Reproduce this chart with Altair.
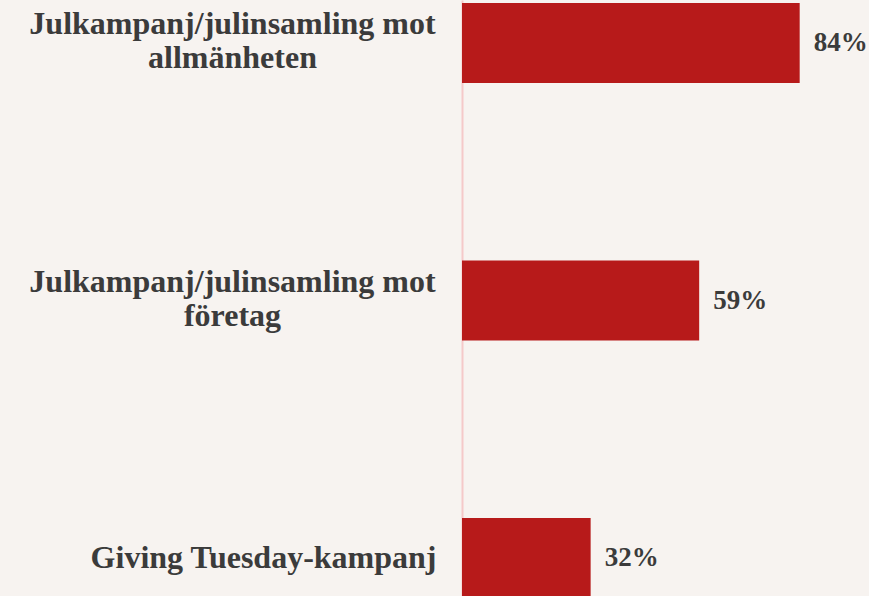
import altair as alt
import pandas as pd

categories = [
    "Julkampanj/julinsamling mot|allmänheten",
    "Julkampanj/julinsamling mot|företag",
    "Giving Tuesday-kampanj",
]
values = [84, 59, 32]
value_labels = ["84%", "59%", "32%"]

df = pd.DataFrame({"cat": categories, "val": values, "lab": value_labels})

FONT = "Liberation Serif"
TXT = "#3b3b3b"

y = alt.Y(
    "cat:N",
    sort=categories,
    scale=alt.Scale(paddingInner=0.689, paddingOuter=0.0117),
    axis=alt.Axis(
        title=None,
        ticks=False,
        grid=False,
        domainColor="#f5c9c9",
        domainWidth=2,
        labelExpr="split(datum.label, '|')",
        labelAlign=alt.expr("indexof(datum.label, '|') >= 0 ? 'center' : 'right'"),
        labelPadding=alt.expr("indexof(datum.label, '|') >= 0 ? 230 : 26"),
        labelOffset=alt.expr("indexof(datum.label, '|') >= 0 ? -19 : 0"),
        labelBaseline="middle",
        labelFont=FONT,
        labelFontWeight="bold",
        labelFontSize=32,
        labelLineHeight=34,
        labelColor=TXT,
        labelLimit=600,
    ),
)

bars = alt.Chart(df).mark_bar(color="#b71a1a").encode(
    x=alt.X("val:Q", scale=alt.Scale(domain=[0, 100]), axis=None),
    y=y,
)

text = alt.Chart(df).mark_text(
    align="left", baseline="middle", dx=14, font=FONT, fontWeight="bold",
    fontSize=27, color=TXT,
).encode(
    x=alt.X("val:Q", scale=alt.Scale(domain=[0, 100]), axis=None),
    y=alt.Y("cat:N", sort=categories),
    text="lab:N",
)

chart = (
    alt.layer(bars, text)
    .properties(
        width=402,
        height=601,
        background="#f7f3f0",
        padding={"left": 462, "top": 0, "right": 5, "bottom": 0},
        autosize=alt.AutoSizeParams(type="none"),
    )
    .configure_view(stroke=None)
)

chart.save("out.html", embed_options={"renderer": "svg", "actions": False})
